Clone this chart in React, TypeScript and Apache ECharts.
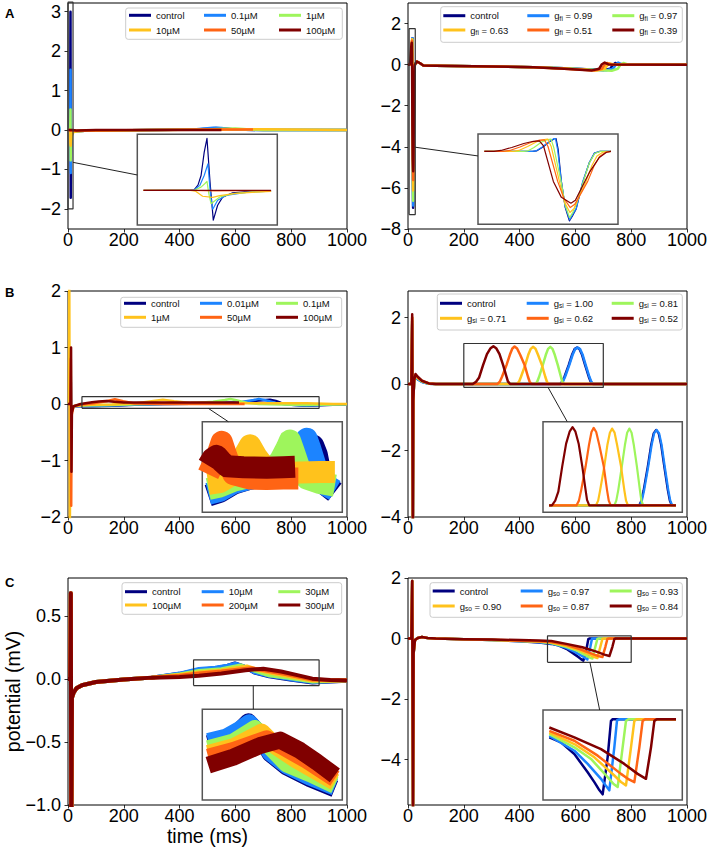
import React, { useEffect, useRef } from "react";
import * as echarts from "echarts";

type Pt = [number, number];

const FONT = "'Liberation Sans', Arial, Helvetica, sans-serif";
const TRACE_COLORS = ["#00007f", "#1c84ff", "#9ef55c", "#ffc21c", "#ff6414", "#800000"];

const timeRange = [0, 1000];
const timeTicks = [0, 200, 400, 600, 800, 1000];

// ================= Panel A (left) : drug concentrations =================
const aLeftLabels = ["control", "0.1µM", "1µM", "10µM", "50µM", "100µM"];
const aLeftYRange = [-2.51, 3.22];
const aLeftYTicks = [-2, -1, 0, 1, 2, 3];
const aLeftZoomX = [0, 18];
const aLeftZoomY = [-2.0, 3.24];
const aLeftControl: Pt[] = [[0.8,0],[7.3,0.03],[7.8,0.3],[8.2,0.86],[8.6,2.2],[8.96,3.0],[9.35,0.48],[9.77,-1.72],[10.33,-0.86],[10.97,-0.39],[12.26,-0.14],[14.4,-0.06],[17.2,-0.04],[30,-0.03],[60,-0.02],[150,-0.01],[300,0],[460,0.01],[500,0.03],[530,0.05],[560,0.04],[600,0.01],[700,0],[850,0],[1000,0]];
const aLeft01: Pt[] = [[0.8,0],[7.3,0.02],[8.05,0.29],[8.6,0.86],[9.08,1.53],[9.4,-0.2],[9.7,-1.09],[10.33,-0.57],[11.4,-0.29],[14.0,-0.11],[17.2,-0.05],[30,-0.03],[60,-0.02],[150,-0.01],[300,0],[450,0.01],[490,0.04],[520,0.06],[550,0.05],[590,0.01],[700,0],[1000,0]];
const aLeft1: Pt[] = [[0.8,0],[7.4,0.02],[8.19,0.19],[8.7,0.4],[8.96,0.52],[9.2,-0.2],[9.48,-0.77],[10.6,-0.38],[12.3,-0.19],[14.8,-0.09],[17.2,-0.05],[30,-0.03],[60,-0.02],[150,-0.01],[300,0],[500,0.01],[560,0.03],[600,0.04],[640,0.02],[700,0],[1000,0]];
const aLeft10: Pt[] = [[0.8,0],[6.8,0],[7.5,-0.05],[8.4,-0.34],[9.7,-0.4],[10.6,-0.3],[12.7,-0.17],[15.3,-0.1],[17.2,-0.06],[30,-0.04],[60,-0.02],[150,-0.01],[300,0],[600,0.01],[700,0.02],[800,0.01],[1000,0]];
const aLeft50: Pt[] = [[0.8,0],[7.0,0],[8.5,-0.02],[10,-0.03],[13,-0.02],[17.2,-0.01],[30,-0.02],[100,-0.01],[300,0],[500,0.01],[663,0.01]];
const aLeft100: Pt[] = [[0.8,0],[17.2,0],[30,-0.01],[100,0],[300,0],[550,0]];

// ================= Panel A (right) : g_fi =================
const aRightLabels = ["control", "g_fi = 0.99", "g_fi = 0.97", "g_fi = 0.63", "g_fi = 0.51", "g_fi = 0.39"];
const aRightYRange = [-8, 3.0];
const aRightYTicks = [-8, -6, -4, -2, 0, 2];
const aRightZoomX = [4, 26];
const aRightZoomY = [-7.3, 1.75];
const aRightControl: Pt[] = [[0,0],[5,0],[12.6,0],[13.2,0.05],[14.2,0.45],[15.3,1.0],[16.0,1.28],[16.26,1.3],[16.6,0.2],[17.1,-3.0],[17.7,-5.6],[18.36,-6.96],[18.9,-6.4],[19.41,-5.8],[20.46,-3.1],[21.5,-1.1],[22.3,-0.17],[23.1,0],[24.9,0],[32,0.15],[42,0.08],[55,-0.04],[100,-0.06],[300,-0.09],[450,-0.13],[560,-0.18],[660,-0.24],[700,-0.26],[725,-0.2],[735,0.0],[743,0.08],[758,0.01],[1000,0]];
const aRight099: Pt[] = [[0,0],[5,0],[12.5,0],[13.1,0.05],[14.1,0.45],[15.2,1.0],[15.9,1.28],[16.16,1.3],[16.5,0.2],[17.1,-3.0],[17.7,-5.5],[18.4,-6.86],[18.9,-6.3],[19.45,-5.7],[20.46,-3.0],[21.5,-1.1],[22.3,-0.17],[23.1,0],[24.9,0],[32,0.15],[42,0.08],[55,-0.04],[100,-0.06],[300,-0.09],[450,-0.13],[560,-0.18],[670,-0.25],[710,-0.27],[735,-0.2],[745,0.0],[753,0.1],[768,0.01],[1000,0]];
const aRight097: Pt[] = [[0,0],[5,0],[11.2,0],[11.8,0.05],[12.8,0.4],[14.0,0.95],[15.0,1.2],[15.48,1.24],[15.9,0.4],[17.05,-3.0],[17.7,-5.4],[18.4,-6.63],[18.9,-6.1],[19.5,-5.2],[20.56,-3.0],[21.5,-1.15],[22.35,-0.2],[23.2,0],[24.9,0],[32,0.15],[42,0.08],[55,-0.04],[100,-0.06],[300,-0.09],[450,-0.13],[560,-0.18],[680,-0.26],[730,-0.3],[752,-0.2],[762,0.0],[772,0.08],[788,0.01],[1000,0]];
const aRight063: Pt[] = [[0,0],[5,0],[9.6,0],[10.4,0.1],[11.8,0.5],[13.3,1.0],[14.4,1.2],[14.95,1.24],[15.5,0.5],[16.79,-3.0],[17.6,-5.1],[18.45,-6.12],[19.1,-5.7],[19.9,-4.5],[20.98,-3.0],[21.9,-1.4],[22.7,-0.45],[23.6,-0.08],[24.9,0],[32,0.15],[42,0.08],[55,-0.04],[100,-0.06],[300,-0.09],[450,-0.13],[560,-0.19],[650,-0.26],[680,-0.28],[705,-0.2],[716,0.0],[723,0.06],[738,0.01],[1000,0]];
const aRight051: Pt[] = [[0,0],[5,0],[8.0,0],[9.0,0.1],[10.6,0.45],[12.3,0.9],[13.7,1.13],[14.43,1.17],[15.0,0.5],[16.52,-3.0],[17.5,-4.7],[18.5,-5.62],[19.2,-5.3],[20.1,-4.3],[21.24,-3.0],[22.2,-1.5],[23.1,-0.5],[24.0,-0.1],[24.9,0],[32,0.15],[42,0.08],[55,-0.04],[100,-0.06],[300,-0.09],[450,-0.13],[560,-0.2],[640,-0.26],[670,-0.28],[695,-0.2],[705,0.0],[713,0.08],[728,0.01],[1000,0]];
const aRight039: Pt[] = [[0,0],[5,0],[6.5,0],[7.6,0.1],[9.3,0.4],[11.2,0.8],[12.7,1.02],[13.64,1.07],[14.3,0.55],[15.84,-3.0],[17.1,-4.6],[18.6,-5.19],[19.3,-4.9],[19.93,-4.1],[21.5,-2.1],[23.07,-0.6],[24.2,-0.08],[24.9,0],[32,0.15],[42,0.08],[55,-0.04],[100,-0.06],[300,-0.09],[450,-0.13],[560,-0.2],[630,-0.26],[660,-0.28],[685,-0.2],[695,0.02],[705,0.1],[718,0.01],[1000,0]];

// ================= Panel B (left) : drug concentrations =================
const bLeftLabels = ["control", "0.01µM", "0.1µM", "1µM", "50µM", "100µM"];
const bLeftYRange = [-2, 2];
const bLeftYTicks = [-2, -1, 0, 1, 2];
const bLeftZoomX = [50, 900];
const bLeftZoomY = [-0.077, 0.13];
const bLeftControl: Pt[] = [[0,0],[8,0],[10,0.4],[11,-0.5],[13,-0.08],[20,-0.04],[45,-0.035],[86,-0.039],[157,-0.03],[238,-0.012],[341,0.0],[441,0.005],[541,0.012],[623,0.03],[684,0.06],[724,0.075],[745,0.055],[764,0.02],[800,-0.015],[855,-0.031],[950,-0.012],[1000,-0.01]];
const bLeft001: Pt[] = [[0,0],[8,0],[10,0.5],[11,-0.6],[13,-0.08],[20,-0.04],[45,-0.033],[86,-0.035],[157,-0.028],[238,-0.01],[341,0.0],[441,0.006],[541,0.014],[623,0.035],[665,0.07],[684,0.091],[704,0.07],[745,0.02],[780,-0.01],[855,-0.027],[950,-0.01],[1000,-0.01]];
const bLeft01: Pt[] = [[0,0],[8,0],[10,0.7],[11,-0.8],[13,-0.08],[20,-0.04],[45,-0.028],[86,-0.024],[157,-0.018],[238,-0.005],[341,0.004],[441,0.012],[520,0.04],[562,0.07],[582,0.087],[603,0.065],[643,0.02],[684,0.0],[764,-0.01],[855,-0.016],[950,-0.008],[1000,-0.005]];
const bLeft1: Pt[] = [[0,0],[3,0],[4.5,2.6],[6.5,-2.4],[8.5,-0.3],[13,-0.08],[20,-0.04],[45,-0.02],[86,-0.012],[157,-0.008],[238,0.01],[300,0.05],[340,0.076],[380,0.05],[441,0.02],[541,0.012],[643,0.014],[764,0.015],[855,0.015],[950,0.0],[1000,0.0]];
const bLeft50: Pt[] = [[0,0],[8,0],[10,0.8],[11.5,-1.8],[13,-0.2],[20,-0.04],[45,-0.01],[86,0.01],[137,0.05],[168,0.084],[198,0.05],[238,0.01],[341,0.0],[441,-0.001],[541,0.0],[633,0.0]];
const bLeft100: Pt[] = [[0,0],[9,0],[11,1.0],[12.5,-1.2],[14,-0.15],[20,-0.04],[45,0.0],[86,0.03],[110,0.045],[137,0.052],[165,0.04],[200,0.028],[300,0.026],[441,0.025],[541,0.026],[613,0.027]];

// ================= Panel B (right) : g_si =================
const bRightLabels = ["control", "g_si = 1.00", "g_si = 0.81", "g_si = 0.71", "g_si = 0.62", "g_si = 0.52"];
const bRightYRange = [-4, 2.8];
const bRightYTicks = [-4, -2, 0, 2];
const bRightZoomX = [200, 700];
const bRightZoomY = [-0.1, 1.22];
const bRightControl: Pt[] = [[0,0],[12,0],[15,1.8],[17.5,-4.3],[19,-0.5],[22,0.05],[27,0.22],[35,0.15],[50,0.07],[75,0.01],[100,0],[150,0],[222,0],[545,0],[553,0.07],[561,0.22],[576,0.57],[588,0.88],[597,1.05],[606,1.1],[615,1.05],[624,0.88],[635,0.57],[648,0.22],[655,0.07],[662,0],[677,0],[750,0],[1000,0]];
const bRight100: Pt[] = [[0,0],[12,0],[15,1.9],[17.5,-4.3],[19,-0.5],[22,0.05],[27,0.2],[35,0.14],[50,0.06],[75,0.01],[100,0],[150,0],[222,0],[547,0],[555,0.07],[563,0.22],[578,0.57],[590,0.88],[599,1.05],[608,1.1],[617,1.05],[626,0.88],[637,0.57],[650,0.22],[657,0.07],[664,0],[677,0],[750,0],[1000,0]];
const bRight081: Pt[] = [[0,0],[12,0],[15,1.9],[17.5,-4.3],[19,-0.5],[22,0.07],[27,0.25],[35,0.17],[50,0.08],[75,0.01],[100,0],[150,0],[222,0],[456,0],[463,0.07],[470,0.22],[483,0.57],[494,0.88],[502,1.06],[510,1.12],[518,1.06],[526,0.88],[537,0.57],[548,0.22],[553,0.07],[560,0],[677,0],[750,0],[1000,0]];
const bRight071: Pt[] = [[0,0],[12,0],[15,2.0],[17.5,-4.3],[19,-0.5],[22,0.08],[27,0.27],[35,0.19],[50,0.09],[75,0.02],[100,0],[150,0],[222,0],[390,0],[398,0.07],[405,0.22],[420,0.57],[431,0.88],[440,1.06],[448,1.12],[457,1.06],[466,0.88],[480,0.57],[492,0.22],[498,0.07],[505,0],[677,0],[750,0],[1000,0]];
const bRight062: Pt[] = [[0,0],[12,0],[15,2.0],[17.5,-4.3],[19,-0.5],[22,0.09],[27,0.28],[35,0.2],[50,0.1],[75,0.02],[100,0],[150,0],[222,0],[320,0],[329,0.07],[337,0.22],[353,0.57],[365,0.88],[374,1.07],[382,1.13],[391,1.07],[402,0.88],[418,0.57],[430,0.22],[436,0.07],[443,0],[677,0],[750,0],[1000,0]];
const bRight052: Pt[] = [[0,0],[12,0],[15,2.1],[17.5,-4.3],[19,-0.5],[22,0.1],[27,0.3],[35,0.22],[50,0.1],[75,0.02],[100,0],[150,0],[222,0],[232,0],[244,0.07],[255,0.2],[269,0.57],[283,0.9],[296,1.08],[306,1.14],[316,1.08],[328,0.9],[341,0.57],[352,0.25],[358,0.08],[366,0],[677,0],[750,0],[1000,0]];

// ================= Panel C (left) : drug concentrations =================
const cLeftLabels = ["control", "10µM", "30µM", "100µM", "200µM", "300µM"];
const cLeftYRange = [-1.0, 0.8];
const cLeftYTicks = [-1.0, -0.5, 0.0, 0.5];
const cLeftZoomX = [450, 900];
const cLeftZoomY = [-0.053, 0.15];
const cLeftControl: Pt[] = [[0,0],[8,0],[10,0.68],[12,-1.3],[14,-0.15],[20,-0.11],[30,-0.075],[50,-0.05],[100,-0.025],[200,-0.005],[300,0.01],[400,0.04],[469,0.073],[528,0.084],[571,0.103],[598,0.122],[630,0.099],[668,0.051],[721,0.021],[796,-0.005],[876,-0.028],[940,-0.02],[1000,-0.015]];
const cLeft10: Pt[] = [[0,0],[8,0],[10,0.68],[12,-1.3],[14,-0.15],[20,-0.11],[30,-0.075],[50,-0.05],[100,-0.025],[200,-0.005],[300,0.01],[400,0.042],[469,0.078],[528,0.088],[571,0.105],[600,0.12],[632,0.097],[668,0.053],[721,0.024],[796,-0.002],[876,-0.024],[940,-0.018],[1000,-0.015]];
const cLeft30: Pt[] = [[0,0],[8,0],[10,0.68],[12,-1.3],[14,-0.15],[20,-0.11],[30,-0.075],[50,-0.05],[100,-0.025],[200,-0.005],[300,0.01],[400,0.035],[469,0.062],[550,0.077],[619,0.107],[668,0.066],[721,0.028],[796,0.006],[876,-0.02],[940,-0.016],[1000,-0.012]];
const cLeft100: Pt[] = [[0,0],[8,0],[10,0.68],[12,-1.3],[14,-0.15],[20,-0.11],[30,-0.075],[50,-0.05],[100,-0.025],[200,-0.005],[300,0.01],[400,0.03],[469,0.051],[550,0.066],[641,0.099],[689,0.066],[753,0.036],[876,-0.013],[940,-0.012],[1000,-0.01]];
const cLeft200: Pt[] = [[0,0],[8,0],[10,0.68],[12,-1.3],[14,-0.15],[20,-0.11],[30,-0.075],[50,-0.05],[100,-0.025],[200,-0.005],[300,0.01],[400,0.025],[469,0.043],[550,0.058],[657,0.084],[710,0.066],[785,0.036],[876,-0.005],[940,-0.01],[1000,-0.01]];
const cLeft300: Pt[] = [[0,0],[8,0],[10,0.68],[12,-1.3],[14,-0.15],[20,-0.11],[30,-0.075],[50,-0.05],[100,-0.025],[200,-0.005],[300,0.01],[400,0.015],[469,0.025],[550,0.043],[636,0.069],[700,0.081],[764,0.058],[818,0.032],[876,0.002],[940,-0.008],[1000,-0.012]];

// ================= Panel C (right) : g_so =================
const cRightLabels = ["control", "g_so = 0.97", "g_so = 0.93", "g_so = 0.90", "g_so = 0.87", "g_so = 0.84"];
const cRightYRange = [-5.5, 2.0];
const cRightYTicks = [-4, -2, 0, 2];
const cRightZoomX = [500, 800];
const cRightZoomY = [-0.785, 0.09];
const cRightControl: Pt[] = [[0,0],[12,0],[15,1.9],[18,-5.8],[20,-0.5],[25,-0.05],[35,0.02],[50,0.05],[70,0.02],[100,0],[200,-0.02],[300,-0.05],[400,-0.09],[470,-0.13],[513.6,-0.177],[538.8,-0.225],[567.5,-0.338],[596.2,-0.515],[610.6,-0.611],[620,-0.68],[628.5,-0.73],[639.2,-0.37],[646.4,-0.016],[650,0],[786.4,0],[850,0],[1000,0]];
const cRight097: Pt[] = [[0,0],[12,0],[15,1.9],[18,-5.8],[20,-0.5],[25,-0.05],[35,0.02],[50,0.05],[70,0.02],[100,0],[200,-0.02],[300,-0.05],[400,-0.085],[470,-0.12],[513.6,-0.161],[567.5,-0.306],[596.2,-0.434],[624.9,-0.579],[636,-0.65],[642.8,-0.691],[653.6,-0.273],[659.4,-0.01],[665,0],[786.4,0],[850,0],[1000,0]];
const cRight093: Pt[] = [[0,0],[12,0],[15,1.9],[18,-5.8],[20,-0.5],[25,-0.05],[35,0.02],[50,0.05],[70,0.02],[100,0],[200,-0.02],[300,-0.045],[400,-0.08],[470,-0.11],[513.6,-0.145],[567.5,-0.273],[603.4,-0.386],[639.2,-0.563],[652,-0.63],[660.8,-0.659],[671.5,-0.273],[678.7,-0.016],[684,0],[786.4,0],[850,0],[1000,0]];
const cRight090: Pt[] = [[0,0],[12,0],[15,1.9],[18,-5.8],[20,-0.5],[25,-0.05],[35,0.02],[50,0.05],[70,0.02],[100,0],[200,-0.02],[300,-0.045],[400,-0.075],[470,-0.1],[513.6,-0.129],[567.5,-0.241],[610.6,-0.37],[653.6,-0.547],[668,-0.61],[678.7,-0.643],[689.5,-0.273],[696.7,-0.016],[702,0],[786.4,0],[850,0],[1000,0]];
const cRight087: Pt[] = [[0,0],[12,0],[15,1.9],[18,-5.8],[20,-0.5],[25,-0.05],[35,0.02],[50,0.05],[70,0.02],[100,0],[200,-0.02],[300,-0.04],[400,-0.07],[470,-0.09],[513.6,-0.113],[567.5,-0.209],[617.8,-0.354],[667.9,-0.531],[685,-0.585],[696.7,-0.611],[707.5,-0.273],[714.6,-0.016],[720,0],[786.4,0],[850,0],[1000,0]];
const cRight084: Pt[] = [[0,0],[12,0],[15,1.9],[18,-5.8],[20,-0.5],[25,-0.05],[35,0.02],[50,0.05],[70,0.02],[100,0],[200,-0.02],[300,-0.035],[400,-0.05],[470,-0.065],[513.6,-0.08],[567.5,-0.177],[624.9,-0.29],[675.1,-0.434],[703.9,-0.531],[721.8,-0.579],[732.6,-0.273],[739.8,-0.016],[745,0],[786.4,0],[850,0],[1000,0]];

// ---------- assemble panels from the arrays above ----------
const PANELS = [
  { key: "A1", labels: aLeftLabels, series: [aLeftControl, aLeft01, aLeft1, aLeft10, aLeft50, aLeft100], yRange: aLeftYRange, yTicks: aLeftYTicks, zoomX: aLeftZoomX, zoomY: aLeftZoomY, decimals: 0 },
  { key: "A2", labels: aRightLabels, series: [aRightControl, aRight099, aRight097, aRight063, aRight051, aRight039], yRange: aRightYRange, yTicks: aRightYTicks, zoomX: aRightZoomX, zoomY: aRightZoomY, decimals: 0 },
  { key: "B1", labels: bLeftLabels, series: [bLeftControl, bLeft001, bLeft01, bLeft1, bLeft50, bLeft100], yRange: bLeftYRange, yTicks: bLeftYTicks, zoomX: bLeftZoomX, zoomY: bLeftZoomY, decimals: 0 },
  { key: "B2", labels: bRightLabels, series: [bRightControl, bRight100, bRight081, bRight071, bRight062, bRight052], yRange: bRightYRange, yTicks: bRightYTicks, zoomX: bRightZoomX, zoomY: bRightZoomY, decimals: 0 },
  { key: "C1", labels: cLeftLabels, series: [cLeftControl, cLeft10, cLeft30, cLeft100, cLeft200, cLeft300], yRange: cLeftYRange, yTicks: cLeftYTicks, zoomX: cLeftZoomX, zoomY: cLeftZoomY, decimals: 1 },
  { key: "C2", labels: cRightLabels, series: [cRightControl, cRight097, cRight093, cRight090, cRight087, cRight084], yRange: cRightYRange, yTicks: cRightYTicks, zoomX: cRightZoomX, zoomY: cRightZoomY, decimals: 0 },
];

// ---------- layout (pixels) ----------
const LAYOUT = [
  { grid: [68, 3, 279, 226], inset: [137.3, 134.3, 140, 90.7], legendCols: [129, 204, 279], legendRow1: 15.3, legendPitch: 14.7, legendBox: [125.7, 8, 216.6, 31.3], lw: 2.5, insetLw: 1.2, connFrom: [18, -0.82], connTo: [0, 0.89] },
  { grid: [408, 3, 279, 226], inset: [478, 134, 140, 90.3], legendCols: [443.3, 527.3, 612.3], legendRow1: 15.7, legendPitch: 14.3, legendBox: [440.7, 6.7, 241.6, 35.6], lw: 2.5, insetLw: 1.2, connFrom: [26, -4.02], connTo: [4, -0.45] },
  { grid: [68, 291, 279, 226], inset: [202.3, 421.7, 140, 90.6], legendCols: [124, 200, 276], legendRow1: 303.3, legendPitch: 14, legendBox: [120.7, 297.3, 221, 30], lw: 2.5, insetLw: 22, connFrom: [503, -0.077], connTo: [208, 0.13] },
  { grid: [408, 291, 279, 226], inset: [543, 421.7, 139.3, 90.6], legendCols: [440, 526.7, 611.7], legendRow1: 303.3, legendPitch: 15, legendBox: [437.3, 294, 245, 36], lw: 2.5, insetLw: 2.2, connFrom: [502, -0.1], connTo: [287, 1.22] },
  { grid: [68, 578, 279, 227], inset: [202.3, 709.3, 140, 90.7], legendCols: [125, 201.7, 278.3], legendRow1: 591.7, legendPitch: 13.3, legendBox: [122, 582.7, 219.7, 31.6], lw: 4, insetLw: 17, connFrom: [664, -0.053], connTo: [614, 0.15] },
  { grid: [408, 578, 279, 227], inset: [543, 710, 139.3, 90], legendCols: [432.7, 520.7, 609.7], legendRow1: 591, legendPitch: 15, legendBox: [430, 582.7, 252.3, 34.6], lw: 2.5, insetLw: 2.5, connFrom: [652, -0.785], connTo: [622, 0.09] },
];

const LETTERS = [
  { text: "A", x: 5, y: 7 },
  { text: "B", x: 5, y: 286 },
  { text: "C", x: 5, y: 576 },
];

const toRich = (label: string) => {
  const m = label.match(/^(\w)_(\w+)(.*)$/);
  if (m) return `{n|${m[1]}}{s|${m[2]}}{n|${m[3]}}`;
  return `{n|${label}}`;
};

const fmtTick = (v: number, decimals: number) => {
  const a = Math.abs(v);
  const s = decimals > 0 ? a.toFixed(decimals) : String(Math.round(a * 1000) / 1000);
  return (v < -1e-9 ? "\u2212" : "") + s;
};

function buildOption() {
  const grid: any[] = [];
  const xAxis: any[] = [];
  const yAxis: any[] = [];
  const series: any[] = [];
  const legend: any[] = [];
  const display: Record<string, string> = {};

  const tickStyle = { color: "#000", width: 0.8 };
  const labelStyle = { fontSize: 18, lineHeight: 18, fontFamily: FONT, color: "#000" };
  const nameStyle = { fontSize: 19.5, lineHeight: 20, fontFamily: FONT, color: "#000" };

  PANELS.forEach((p, i) => {
    const L = LAYOUT[i];
    grid.push({
      left: L.grid[0], top: L.grid[1], width: L.grid[2], height: L.grid[3],
      show: true, borderColor: "#000", borderWidth: 1, backgroundColor: "rgba(0,0,0,0)",
      containLabel: false, outerBoundsMode: "none",
    });
    const isC1 = i === 4;
    xAxis.push({
      type: "value", gridIndex: i, min: timeRange[0], max: timeRange[1],
      axisLine: { show: false, onZero: false }, splitLine: { show: false },
      axisTick: { show: true, length: 3.5, lineStyle: tickStyle, customValues: timeTicks },
      axisLabel: { ...labelStyle, margin: 2, customValues: timeTicks, formatter: (v: number) => fmtTick(v, 0) },
      ...(isC1 ? { name: "time (ms)", nameLocation: "middle", nameGap: 21, nameMoveOverlap: false, nameTextStyle: nameStyle } : {}),
    });
    yAxis.push({
      type: "value", gridIndex: i, min: p.yRange[0], max: p.yRange[1],
      axisLine: { show: false, onZero: false }, splitLine: { show: false },
      axisTick: { show: true, length: 3.5, lineStyle: tickStyle, customValues: p.yTicks },
      axisLabel: { ...labelStyle, margin: 7, customValues: p.yTicks, formatter: (v: number) => fmtTick(v, p.decimals) },
      ...(isC1 ? { name: "potential (mV)", nameLocation: "middle", nameGap: 45, nameMoveOverlap: false, nameTextStyle: nameStyle } : {}),
    });
  });

  PANELS.forEach((p, i) => {
    const L = LAYOUT[i];
    grid.push({
      left: L.inset[0], top: L.inset[1], width: L.inset[2], height: L.inset[3],
      show: true, borderColor: "#555", borderWidth: 1.5, backgroundColor: "#fff",
      containLabel: false, outerBoundsMode: "none",
    });
    xAxis.push({ type: "value", gridIndex: 6 + i, show: false, min: p.zoomX[0], max: p.zoomX[1], splitLine: { show: false } });
    yAxis.push({ type: "value", gridIndex: 6 + i, show: false, min: p.zoomY[0], max: p.zoomY[1], splitLine: { show: false } });
  });

  PANELS.forEach((p, i) => {
    const L = LAYOUT[i];
    const names = p.labels.map((lab) => `${p.key}::${lab}`);
    names.forEach((n, k) => (display[n] = toRich(p.labels[k])));
    p.series.forEach((d, k) => {
      const c = TRACE_COLORS[k];
      series.push({
        type: "line", name: names[k], xAxisIndex: i, yAxisIndex: i, data: d,
        showSymbol: false, symbol: "none", color: c,
        lineStyle: { color: c, width: L.lw, join: "round" },
        z: 2, silent: true, animation: false, clip: true,
      });
    });
    p.series.forEach((d, k) => {
      const c = TRACE_COLORS[k];
      series.push({
        type: "line", name: `${p.key}::inset::${k}`, xAxisIndex: 6 + i, yAxisIndex: 6 + i,
        data: d.filter(([t]) => t >= p.zoomX[0] && t <= p.zoomX[1]),
        showSymbol: false, symbol: "none", color: c,
        lineStyle: { color: c, width: L.insetLw, join: "round" },
        z: 2, silent: true, animation: false, clip: true,
      });
    });
    const [x0, x1] = p.zoomX;
    const [y0, y1] = p.zoomY;
    series.push({
      type: "line", name: `${p.key}::zoom`, xAxisIndex: i, yAxisIndex: i,
      data: [[x0, y0], [x1, y0], [x1, y1], [x0, y1], [x0, y0]],
      showSymbol: false, symbol: "none", color: "#333",
      lineStyle: { color: "#333", width: 1.2 }, z: 3, silent: true, animation: false, clip: false,
    });

    [0, 1, 2].forEach((col) => {
      legend.push({
        orient: "vertical", left: L.legendCols[col], top: L.legendRow1 - 6, padding: 0,
        itemGap: L.legendPitch - 12, itemWidth: 22, itemHeight: 3, icon: "rect",
        selectedMode: false, z: 6,
        data: [names[col], names[col + 3]],
        formatter: (name: string) => display[name] || name,
        textStyle: {
          fontFamily: FONT, fontSize: 9.5, color: "#111", lineHeight: 12,
          rich: {
            n: { fontFamily: FONT, fontSize: 9.5, color: "#111", lineHeight: 12 },
            s: { fontFamily: FONT, fontSize: 6.6, color: "#111", lineHeight: 12, verticalAlign: "bottom" },
          },
        },
      });
    });
  });

  return { animation: false, backgroundColor: "#fff", grid, xAxis, yAxis, series, legend };
}

export default function App() {
  const ref = useRef<HTMLDivElement>(null);
  useEffect(() => {
    if (!ref.current) return;
    const chart = echarts.init(ref.current, undefined, { renderer: "svg", width: 708, height: 855 });
    chart.setOption(buildOption());

    const elements: any[] = [];
    LAYOUT.forEach((L) => {
      const [x, y, w, h] = L.legendBox;
      elements.push({
        type: "rect", silent: true, z: 4,
        shape: { x, y, width: w, height: h, r: 2.5 },
        style: { fill: "rgba(255,255,255,0.92)", stroke: "#cccccc", lineWidth: 1 },
      });
    });
    LETTERS.forEach((l) => {
      elements.push({
        type: "text", silent: true, z: 6, x: l.x, y: l.y,
        style: { text: l.text, fontFamily: FONT, fontSize: 13, fontWeight: "bold", fill: "#000", verticalAlign: "top" },
      });
    });
    PANELS.forEach((_, i) => {
      const L = LAYOUT[i];
      const a = chart.convertToPixel({ gridIndex: i } as any, L.connFrom) as number[];
      const b = chart.convertToPixel({ gridIndex: 6 + i } as any, L.connTo) as number[];
      if (a && b) {
        elements.push({
          type: "line", silent: true, z: 5,
          shape: { x1: a[0], y1: a[1], x2: b[0], y2: b[1] },
          style: { stroke: "#222", lineWidth: 1 },
        });
      }
    });
    chart.setOption({ graphic: { elements } });

    return () => chart.dispose();
  }, []);
  return <div ref={ref} style={{ position: "absolute", left: 0, top: 0, width: 708, height: 855, background: "#fff" }} />;
}
